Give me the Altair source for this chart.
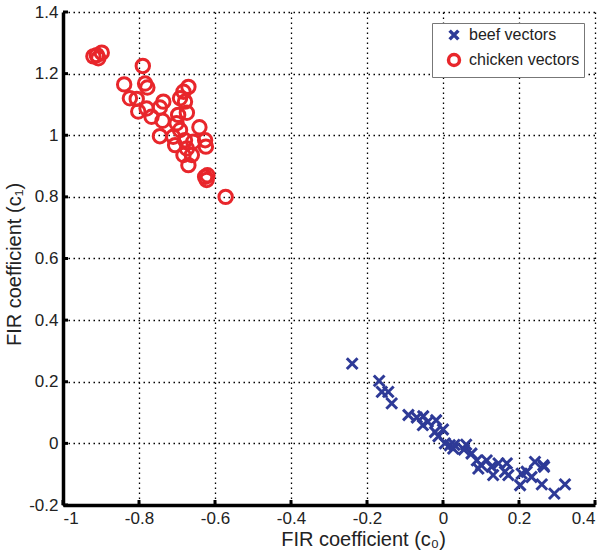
import altair as alt
import pandas as pd

# ---- data ----
beef_x = [-0.239, -0.168, -0.161, -0.144, -0.135, -0.091, -0.069, -0.052, -0.053, -0.018,
          -0.021, -0.012, 0.005, 0.018, 0.027, 0.061, 0.075, 0.089, 0.093, 0.115,
          0.128, 0.132, 0.146, 0.168, 0.163, 0.172, 0.203, 0.207, 0.220, 0.233,
          0.242, 0.264, 0.266, 0.260, 0.293, 0.321, -0.040, 0.000, 0.030, 0.100, 0.055]
beef_y = [0.259, 0.203, 0.167, 0.167, 0.130, 0.092, 0.084, 0.088, 0.059, 0.075,
          0.037, 0.023, 0.000, -0.006, -0.017, -0.004, -0.033, -0.055, -0.082, -0.055,
          -0.076, -0.103, -0.065, -0.065, -0.092, -0.103, -0.136, -0.098, -0.092, -0.109,
          -0.060, -0.071, -0.076, -0.133, -0.163, -0.133, 0.070, 0.045, -0.005, -0.070, -0.020]

chicken_x = [-0.911, -0.898, -0.907, -0.920, -0.790, -0.839, -0.784, -0.778, -0.824, -0.806,
             -0.802, -0.780, -0.767, -0.736, -0.745, -0.738, -0.745, -0.670, -0.683, -0.692,
             -0.679, -0.674, -0.697, -0.701, -0.710, -0.692, -0.705, -0.679, -0.674, -0.683,
             -0.661, -0.670, -0.657, -0.641, -0.626, -0.624, -0.626, -0.622, -0.620, -0.572]
chicken_y = [1.260, 1.268, 1.250, 1.256, 1.225, 1.165, 1.168, 1.155, 1.120, 1.118,
             1.077, 1.087, 1.060, 1.109, 1.090, 1.047, 0.997, 1.157, 1.141, 1.120,
             1.109, 1.073, 1.066, 1.039, 0.995, 1.017, 0.968, 0.984, 0.957, 0.936,
             0.936, 0.903, 0.979, 1.026, 0.984, 0.963, 0.865, 0.855, 0.870, 0.800]

series = ["beef vectors", "chicken vectors"]
colors = ["#2E3A97", "#E8262B"]
x_ticks = [-1, -0.8, -0.6, -0.4, -0.2, 0, 0.2, 0.4]
y_ticks = [-0.2, 0, 0.2, 0.4, 0.6, 0.8, 1, 1.2, 1.4]

df = pd.DataFrame({
    "c0": beef_x + chicken_x,
    "c1": beef_y + chicken_y,
    "series": [series[0]] * len(beef_x) + [series[1]] * len(chicken_x),
})

W, H = 532, 493
FONT = "Liberation Sans"
CROSS = "M-0.8,-0.8L0.8,0.8M-0.8,0.8L0.8,-0.8"
LBL = "'' + (round(datum.value*10)/10)"

xs = alt.Scale(domain=[-1, 0.4], nice=False, zero=False)
ys = alt.Scale(domain=[-0.2, 1.4], nice=False, zero=False)
xaxis = alt.Axis(values=x_ticks, title="FIR coefficient (c₀)", labelExpr=LBL, titleX=300,
                 labelPadding=5, titlePadding=3)
yaxis = alt.Axis(values=y_ticks, title="FIR coefficient (c₁)", labelExpr=LBL, titleY=252,
                 labelPadding=5, titlePadding=4)

points = alt.Chart(df).mark_point(filled=False, strokeWidth=3, size=180, opacity=1).encode(
    x=alt.X("c0:Q", scale=xs, axis=xaxis),
    y=alt.Y("c1:Q", scale=ys, axis=yaxis),
    color=alt.Color("series:N", scale=alt.Scale(domain=series, range=colors),
                    legend=alt.Legend(title=None, orient="none", legendX=369, legendY=11)),
    shape=alt.Shape("series:N", scale=alt.Scale(domain=series, range=[CROSS, "circle"]),
                    legend=alt.Legend(title=None, orient="none", legendX=369, legendY=11)),
)

ytick_df = pd.DataFrame({"v": y_ticks})
xtick_df = pd.DataFrame({"v": x_ticks})

yticks = alt.Chart(ytick_df).mark_rule(color="black", strokeWidth=3).encode(
    y=alt.Y("v:Q", scale=ys, axis=yaxis), x=alt.value(0), x2=alt.value(5))
xticks = alt.Chart(xtick_df).mark_rule(color="black", strokeWidth=3).encode(
    x=alt.X("v:Q", scale=xs, axis=xaxis), y=alt.value(H), y2=alt.value(H - 5))

chart = alt.layer(points, yticks, xticks).properties(
    width=W, height=H,
    padding={"left": 63, "top": 12, "right": 7, "bottom": 47},
    autosize="none",
    background="white",
).configure_view(stroke=None).configure_axis(
    domainColor="black", domainWidth=3.5, ticks=False,
    labelFont=FONT, labelFontSize=17, labelColor="#222",
    titleFont=FONT, titleFontSize=20, titleFontWeight="normal", titleColor="#222",
    grid=True, gridColor="black", gridDash=[1.5, 3.5], gridWidth=1.3, gridOpacity=1,
).configure_legend(
    fillColor="white", strokeColor="#777", strokeWidth=1, padding=4,
    labelFont=FONT, labelFontSize=16, labelColor="#222", labelOffset=7,
    symbolSize=120, symbolStrokeWidth=3.5, symbolOffset=10, rowPadding=0,
)

chart.save("out.html", embed_options={"renderer": "svg", "actions": False})
